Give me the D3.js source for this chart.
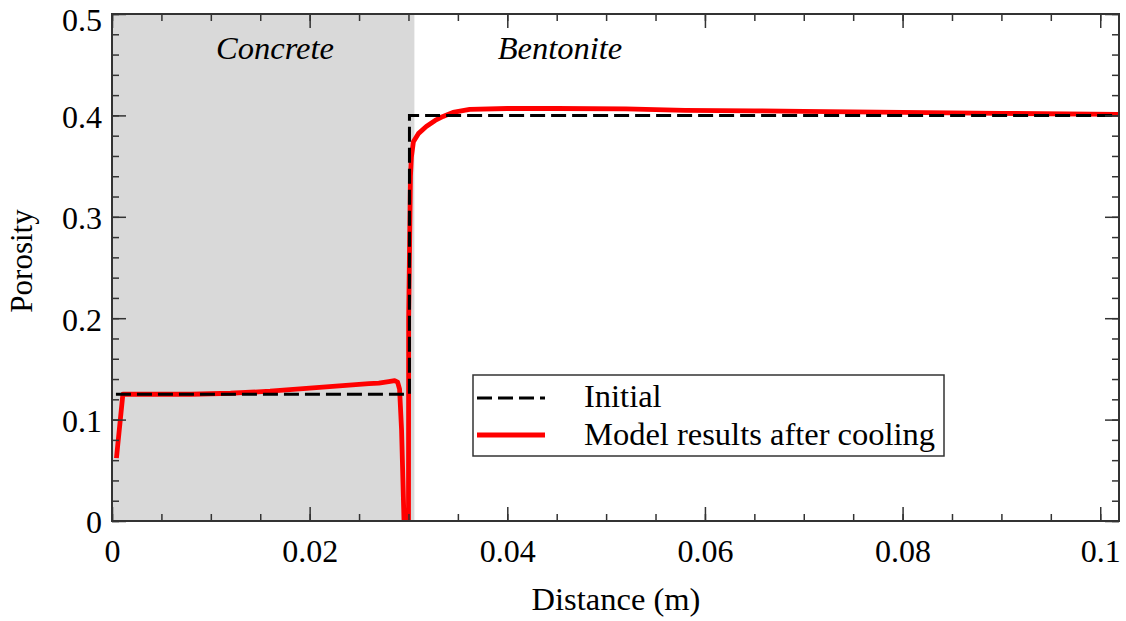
<!DOCTYPE html>
<html><head><meta charset="utf-8">
<script src="https://cdn.jsdelivr.net/npm/d3@7"></script>
<style>
body{margin:0;background:#fff;}
</style></head>
<body><svg id="c" width="1126" height="621"></svg>
<script>
// ---- data ----
const xMajorTicks = [0, 0.02, 0.04, 0.06, 0.08, 0.1];
const xTickLabels = ["0", "0.02", "0.04", "0.06", "0.08", "0.1"];
const yMajorTicks = [0, 0.1, 0.2, 0.3, 0.4, 0.5];
const yTickLabels = ["0", "0.1", "0.2", "0.3", "0.4", "0.5"];
const concreteRange = [0, 0.0306];
const initialX = [0.0004, 0.0301, 0.0301, 0.1019];
const initialY = [0.125, 0.125, 0.4, 0.4];
const modelX = [0.00045, 0.0011, 0.003, 0.006, 0.008, 0.010, 0.012, 0.014, 0.016, 0.018, 0.020, 0.022, 0.024, 0.026, 0.027, 0.028, 0.0286, 0.0289, 0.0291, 0.0293, 0.02955, 0.0297, 0.0300, 0.03002, 0.0302, 0.0303, 0.0305, 0.0310, 0.0318, 0.0327, 0.0335, 0.0345, 0.0362, 0.040, 0.045, 0.052, 0.058, 0.065, 0.070, 0.080, 0.090, 0.1019];
const modelY = [0.062, 0.125, 0.125, 0.125, 0.125, 0.1255, 0.126, 0.127, 0.128, 0.1295, 0.131, 0.1325, 0.134, 0.1355, 0.136, 0.1375, 0.1385, 0.137, 0.13, 0.09, 0.0, -0.02, -0.02, 0.2, 0.34, 0.359, 0.374, 0.382, 0.389, 0.395, 0.399, 0.403, 0.406, 0.4068, 0.4068, 0.4065, 0.405, 0.4045, 0.404, 0.403, 0.402, 0.401];
const legendLabels = ["Initial", "Model results after cooling"];

const FONT = '"Liberation Serif"';
const svg = d3.select("#c");
const L = 112, R = 1119, T = 14, B = 521;
const x = d3.scaleLinear().domain([0, 0.1019]).range([L, R]);
const y = d3.scaleLinear().domain([0, 0.5]).range([B, T]);

// shaded concrete region
svg.append("rect").attr("x", x(concreteRange[0])).attr("y", T)
  .attr("width", x(concreteRange[1]) - x(concreteRange[0])).attr("height", B - T)
  .attr("fill", "#d9d9d9");

svg.append("defs").append("clipPath").attr("id", "clip")
  .append("rect").attr("x", L).attr("y", T).attr("width", R - L).attr("height", B - T);

const line = d3.line().x(d => x(d[0])).y(d => y(d[1]));
svg.append("path").datum(modelX.map((v, i) => [v, modelY[i]]))
  .attr("d", line).attr("fill", "none").attr("stroke", "#ff0000")
  .attr("stroke-width", 4.8).attr("stroke-linejoin", "round").attr("clip-path", "url(#clip)");
svg.append("path").datum(initialX.map((v, i) => [v, initialY[i]]))
  .attr("d", line).attr("fill", "none").attr("stroke", "#000")
  .attr("stroke-width", 3).attr("stroke-dasharray", "15,6").attr("clip-path", "url(#clip)");

// axes / ticks (inward on all four sides)
const xMinor = d3.range(0, 0.1019, 0.005);
const yMinor = d3.range(0, 0.5001, 0.02);
const axColor = "#333";
function styleAxis(g) { g.select(".domain").remove(); g.attr("font-family", null).attr("font-size", null); g.selectAll("line").attr("stroke", axColor).attr("stroke-width", 1.5); }
function styleText(sel, size) { sel.style("font-family", FONT).style("font-size", (size || 32.5) + "px").attr("fill", "#000"); }
svg.append("g").attr("transform", `translate(0,${B})`).call(d3.axisBottom(x).tickValues(xMinor).tickSize(-7).tickFormat("")).call(styleAxis);
svg.append("g").attr("transform", `translate(0,${B})`).call(d3.axisBottom(x).tickValues(xMajorTicks).tickSize(-14).tickPadding(0).tickFormat((d, i) => xTickLabels[i])).call(styleAxis)
  .selectAll("text").call(styleText, 32).attr("dy", null).attr("y", 40.5);
svg.append("g").attr("transform", `translate(0,${T})`).call(d3.axisTop(x).tickValues(xMinor).tickSize(-7).tickFormat("")).call(styleAxis);
svg.append("g").attr("transform", `translate(0,${T})`).call(d3.axisTop(x).tickValues(xMajorTicks).tickSize(-14).tickFormat("")).call(styleAxis);
svg.append("g").attr("transform", `translate(${L},0)`).call(d3.axisLeft(y).tickValues(yMinor).tickSize(-7).tickFormat("")).call(styleAxis);
svg.append("g").attr("transform", `translate(${L},0)`).call(d3.axisLeft(y).tickValues(yMajorTicks).tickSize(-14).tickPadding(10).tickFormat((d, i) => yTickLabels[i])).call(styleAxis)
  .selectAll("text").call(styleText, 32).attr("dy", (d, i) => i === yMajorTicks.length - 1 ? "0.53em" : "0.37em");
svg.append("g").attr("transform", `translate(${R},0)`).call(d3.axisRight(y).tickValues(yMinor).tickSize(-7).tickFormat("")).call(styleAxis);
svg.append("g").attr("transform", `translate(${R},0)`).call(d3.axisRight(y).tickValues(yMajorTicks).tickSize(-14).tickFormat("")).call(styleAxis);

svg.append("rect").attr("x", L).attr("y", T).attr("width", R - L).attr("height", B - T)
  .attr("fill", "none").attr("stroke", axColor).attr("stroke-width", 2);

// region labels
svg.append("text").attr("x", 275).attr("y", 59).attr("text-anchor", "middle")
  .call(styleText).style("font-style", "italic").text("Concrete");
svg.append("text").attr("x", 560).attr("y", 59).attr("text-anchor", "middle")
  .call(styleText).style("font-style", "italic").text("Bentonite");

// axis titles
svg.append("text").attr("x", 616).attr("y", 610).attr("text-anchor", "middle")
  .call(styleText).text("Distance (m)");
svg.append("text").attr("transform", "translate(32,261) rotate(-90)").attr("text-anchor", "middle")
  .call(styleText, 31).text("Porosity");

// legend
const lg = svg.append("g");
lg.append("rect").attr("x", 473).attr("y", 375).attr("width", 471).attr("height", 81)
  .attr("fill", "#fff").attr("stroke", axColor).attr("stroke-width", 1.5);
lg.append("line").attr("x1", 477).attr("x2", 545).attr("y1", 398).attr("y2", 398)
  .attr("stroke", "#000").attr("stroke-width", 3).attr("stroke-dasharray", "15,6");
lg.append("line").attr("x1", 477).attr("x2", 545).attr("y1", 435).attr("y2", 435)
  .attr("stroke", "#ff0000").attr("stroke-width", 4.8);
lg.selectAll("text.lg").data(legendLabels).join("text").attr("class", "lg")
  .attr("x", 584).attr("y", (d, i) => 407 + i * 38).call(styleText).text(d => d);
</script></body></html>
